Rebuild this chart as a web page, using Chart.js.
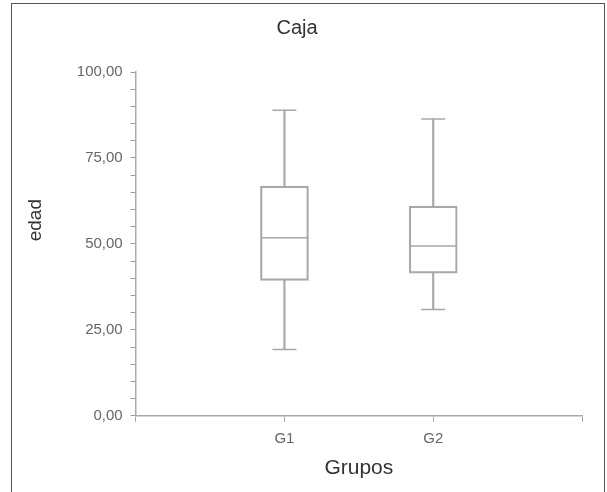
<!DOCTYPE html>
<html>
<head>
<meta charset="utf-8">
<script src="https://cdn.jsdelivr.net/npm/chart.js@4/dist/chart.umd.min.js"></script>
<style>
  html, body { margin: 0; padding: 0; background: #fff; overflow: hidden; }
  #frame {
    position: absolute; left: 11px; top: 3px;
    width: 592px; height: 500px;
    border: 1px solid #555;
  }
  #wrap { position: relative; width: 596px; height: 477px; }
</style>
</head>
<body>
<div id="frame">
  <div id="wrap"><canvas id="chart"></canvas></div>
</div>
<script>
// categories (empty slots at both ends keep the spacing of the original axis)
const categories = ["", "G1", "G2", ""];

// box plot summary per group
const minVals = [null, 19.3, 30.9, null];
const q1Vals = [null, 39.4, 41.5, null];
const medianVals = [null, 51.8, 49.4, null];
const q3Vals = [null, 66.8, 61.0, null];
const maxVals = [null, 88.9, 86.3, null];

const yTickLabels = [0, 25, 50, 75, 100];

const lineColor = "#a8a8a8";
const font = "'Liberation Sans', Arial, sans-serif";

const pair = (a, b) => a.map((v, i) => (v === null ? null : [v, b[i]]));

const ctx = document.getElementById("chart").getContext("2d");
new Chart(ctx, {
  data: {
    labels: categories,
    datasets: [
      {
        type: "line",
        data: medianVals,
        showLine: false,
        pointStyle: "line",
        pointRadius: 24,
        pointBorderColor: lineColor,
        pointBorderWidth: 1.5,
      },
      {
        type: "line",
        data: minVals,
        showLine: false,
        pointStyle: "line",
        pointRadius: 12,
        pointBorderColor: lineColor,
        pointBorderWidth: 1.5,
      },
      {
        type: "line",
        data: maxVals,
        showLine: false,
        pointStyle: "line",
        pointRadius: 12,
        pointBorderColor: lineColor,
        pointBorderWidth: 1.5,
      },
      {
        type: "bar",
        data: pair(q1Vals, q3Vals),
        backgroundColor: "rgba(0,0,0,0)",
        borderColor: lineColor,
        borderWidth: 1.5,
        borderSkipped: false,
        barThickness: 48,
        grouped: false,
      },
      {
        type: "bar",
        data: pair(minVals, q1Vals),
        backgroundColor: lineColor,
        borderWidth: 0,
        barThickness: 1.5,
        grouped: false,
      },
      {
        type: "bar",
        data: pair(q3Vals, maxVals),
        backgroundColor: lineColor,
        borderWidth: 0,
        barThickness: 1.5,
        grouped: false,
      },
    ],
  },
  options: {
    responsive: true,
    maintainAspectRatio: false,
    animation: false,
    events: [],
    layout: { padding: { left: 0, right: 26, top: 0, bottom: 0 } },
    plugins: {
      legend: { display: false },
      tooltip: { enabled: false },
      title: {
        display: true,
        text: "Caja",
        color: "#333",
        font: { family: font, size: 20, weight: "normal" },
        padding: { top: 12, bottom: 32 },
      },
    },
    scales: {
      x: {
        type: "category",
        offset: false,
        grid: {
          offset: false,
          drawOnChartArea: false,
          drawTicks: true,
          tickLength: 6,
          color: "#aaa",
        },
        border: { display: true, color: "#aaa", width: 1.5 },
        ticks: {
          color: "#666",
          font: { family: font, size: 15 },
          padding: 8,
          maxRotation: 0,
          autoSkip: false,
        },
        title: {
          display: true,
          text: "Grupos",
          color: "#333",
          font: { family: font, size: 21 },
          padding: { top: 0, bottom: 0 },
        },
      },
      y: {
        min: 0,
        max: 100,
        grid: {
          drawOnChartArea: false,
          drawTicks: true,
          tickLength: 5,
          color: "#999",
        },
        border: { display: true, color: "#aaa", width: 1.5 },
        ticks: {
          stepSize: 5,
          autoSkip: false,
          color: "#666",
          font: { family: font, size: 15 },
          padding: 8,
          callback: (v) =>
            yTickLabels.includes(v) ? v.toFixed(2).replace(".", ",") : "",
        },
        title: {
          display: true,
          // leading blanks push the label up a little, as in the original
          text: "\u00a0".repeat(9) + "edad",
          color: "#333",
          font: { family: font, size: 19 },
          padding: { top: 12, bottom: 22 },
        },
      },
    },
  },
});
</script>
</body>
</html>
